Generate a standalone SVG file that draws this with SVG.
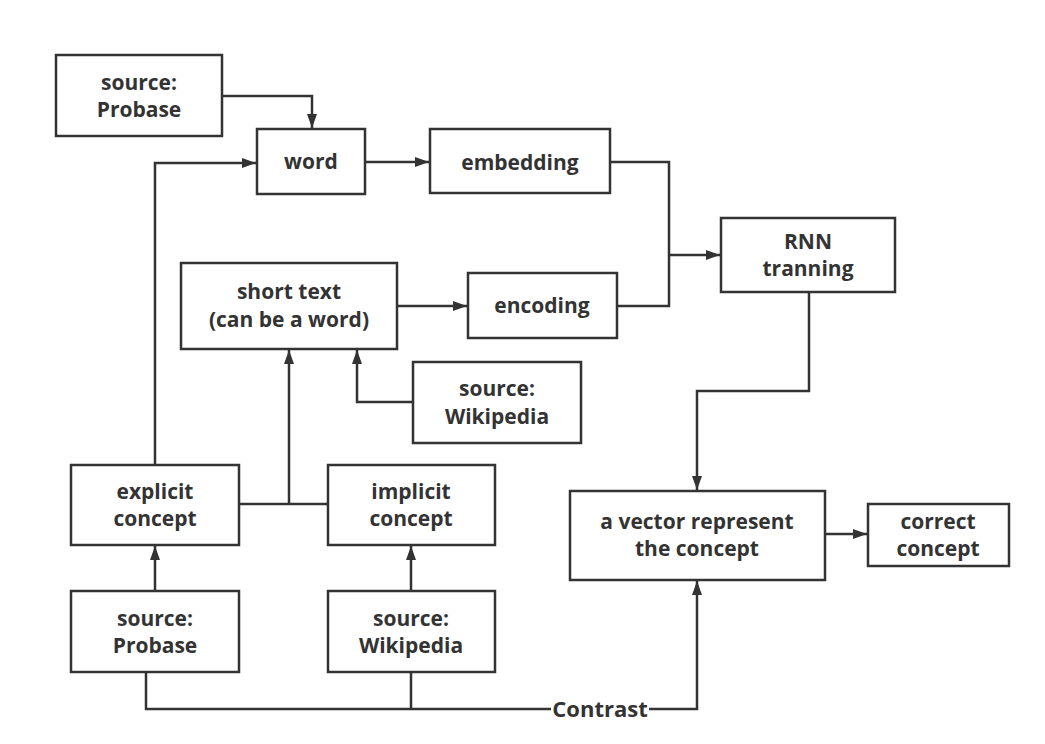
<svg xmlns="http://www.w3.org/2000/svg" width="1045" height="744" viewBox="0 0 1045 744">
<style>
.box{fill:#fff;stroke:#333;stroke-width:2.5}
.t{font-family:"Open Sans","Liberation Sans",sans-serif;font-weight:bold;font-size:21px;fill:#333;text-anchor:middle}
.c{fill:none;stroke:#333;stroke-width:2.5}
</style>
<defs>
<marker id="a" viewBox="0 0 14 10" refX="14" refY="5" markerWidth="14" markerHeight="10" markerUnits="userSpaceOnUse" orient="auto">
<path d="M0,0 L14,5 L0,10 z" fill="#333"/>
</marker>
</defs>
<rect width="1045" height="744" fill="#fff"/>
<g id="connectors">
<path class="c" d="M222,96 H312 V128" marker-end="url(#a)"/>
<path class="c" d="M155,465 V163 H256" marker-end="url(#a)"/>
<path class="c" d="M365,162 H429" marker-end="url(#a)"/>
<path class="c" d="M610,162 H669 V306 H617"/>
<path class="c" d="M669,255 H720" marker-end="url(#a)"/>
<path class="c" d="M397,306 H467" marker-end="url(#a)"/>
<path class="c" d="M239,504 H328"/>
<path class="c" d="M289,504 V350" marker-end="url(#a)"/>
<path class="c" d="M413,402 H357 V350" marker-end="url(#a)"/>
<path class="c" d="M155,591 V546" marker-end="url(#a)"/>
<path class="c" d="M411,591 V546" marker-end="url(#a)"/>
<path class="c" d="M809,292 V391 H697 V490" marker-end="url(#a)"/>
<path class="c" d="M825,534 H867" marker-end="url(#a)"/>
<path class="c" d="M146,672 V709 H551"/>
<path class="c" d="M411,672 V709"/>
<path class="c" d="M649,709 H697 V581" marker-end="url(#a)"/>
<text class="t" x="600" y="717" style="font-size:22px">Contrast</text>
</g>
<g id="src_probase_top"><rect class="box" x="56" y="55" width="166" height="81"/><text class="t" x="139" y="90">source:</text><text class="t" x="139" y="117">Probase</text></g>
<g id="word"><rect class="box" x="257" y="129" width="108" height="65"/><text class="t" x="311" y="169">word</text></g>
<g id="embedding"><rect class="box" x="430" y="129" width="180" height="64"/><text class="t" x="520" y="170">embedding</text></g>
<g id="rnn"><rect class="box" x="721" y="218" width="174" height="74"/><text class="t" x="808" y="249">RNN</text><text class="t" x="808" y="276">tranning</text></g>
<g id="encoding"><rect class="box" x="468" y="273" width="149" height="65"/><text class="t" x="542" y="313">encoding</text></g>
<g id="short_text"><rect class="box" x="181" y="263" width="216" height="86"/><text class="t" x="289" y="299">short text</text><text class="t" x="289" y="327">(can be a word)</text></g>
<g id="src_wiki_mid"><rect class="box" x="413" y="362" width="168" height="81"/><text class="t" x="497" y="396">source:</text><text class="t" x="497" y="424">Wikipedia</text></g>
<g id="explicit"><rect class="box" x="71" y="465" width="168" height="80"/><text class="t" x="155" y="499">explicit</text><text class="t" x="155" y="526">concept</text></g>
<g id="implicit"><rect class="box" x="328" y="465" width="167" height="80"/><text class="t" x="411" y="499">implicit</text><text class="t" x="411" y="526">concept</text></g>
<g id="src_probase_bottom"><rect class="box" x="71" y="591" width="168" height="81"/><text class="t" x="155" y="626">source:</text><text class="t" x="155" y="653">Probase</text></g>
<g id="src_wiki_bottom"><rect class="box" x="328" y="591" width="167" height="81"/><text class="t" x="411" y="626">source:</text><text class="t" x="411" y="653">Wikipedia</text></g>
<g id="vector"><rect class="box" x="570" y="491" width="255" height="89"/><text class="t" x="697" y="529">a vector represent</text><text class="t" x="697" y="556">the concept</text></g>
<g id="correct"><rect class="box" x="868" y="504" width="141" height="62"/><text class="t" x="938" y="529">correct</text><text class="t" x="938" y="556">concept</text></g>
</svg>
